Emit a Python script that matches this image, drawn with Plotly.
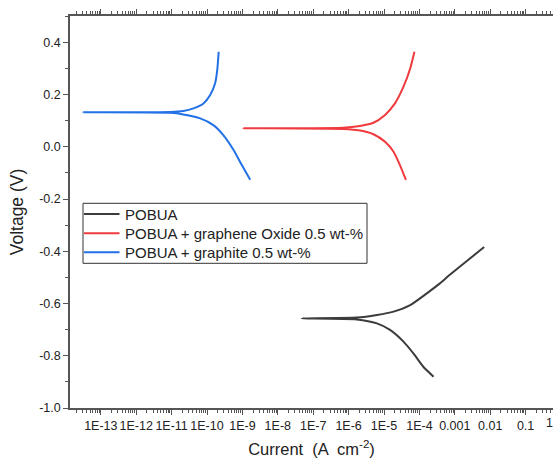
import plotly.graph_objects as go

# ---- data (log10 of current density, voltage) ----
pobua_start = (-7.32, -0.657)
pobua_up_logi = [-5.77, -5.20, -4.73, -4.26, -3.79, -3.42, -3.15, -2.66, -2.17]
pobua_up_v = [-0.654, -0.644, -0.631, -0.606, -0.561, -0.523, -0.491, -0.437, -0.384]
pobua_dn_logi = [-5.77, -5.20, -4.83, -4.45, -4.17, -3.89, -3.60]
pobua_dn_v = [-0.661, -0.676, -0.701, -0.746, -0.791, -0.842, -0.880]

go_start = (-8.99, 0.071)
go_up_logi = [-6.15, -5.68, -5.30, -4.97, -4.69, -4.45, -4.26, -4.14]
go_up_v = [0.073, 0.080, 0.092, 0.122, 0.166, 0.230, 0.300, 0.364]
go_dn_logi = [-6.15, -5.68, -5.30, -4.97, -4.73, -4.55, -4.38]
go_dn_v = [0.068, 0.062, 0.048, 0.019, -0.019, -0.070, -0.127]

gr_start = (-13.5, 0.132)
gr_up_logi = [-11.04, -10.67, -10.38, -10.10, -9.91, -9.77, -9.71, -9.67]
gr_up_v = [0.133, 0.137, 0.147, 0.166, 0.198, 0.243, 0.294, 0.364]
gr_dn_logi = [-11.04, -10.67, -10.19, -9.82, -9.54, -9.25, -9.02, -8.78]
gr_dn_v = [0.130, 0.124, 0.109, 0.083, 0.045, -0.012, -0.069, -0.126]

names = ["POBUA", "POBUA + graphene Oxide 0.5 wt-%", "POBUA + graphite 0.5 wt-%"]
colors = ["#3c3c3c", "#f03a3d", "#2271e6"]

x_tickvals = [1e-13, 1e-12, 1e-11, 1e-10, 1e-9, 1e-8, 1e-7, 1e-6, 1e-5, 1e-4, 1e-3, 1e-2, 1e-1]
x_ticktext = ["1E-13", "1E-12", "1E-11", "1E-10", "1E-9", "1E-8", "1E-7", "1E-6",
              "1E-5", "1E-4", "0.001", "0.01", "0.1"]
y_tickvals = [0.4, 0.2, 0.0, -0.2, -0.4, -0.6, -0.8, -1.0]
y_ticktext = ["0.4", "0.2", "0.0", "-0.2", "-0.4", "-0.6", "-0.8", "-1.0"]


def build(start, up_l, up_v, dn_l, dn_v):
    logs = list(reversed(dn_l)) + [start[0]] + list(up_l)
    vs = list(reversed(dn_v)) + [start[1]] + list(up_v)
    return [10 ** l for l in logs], vs


series = [
    build(pobua_start, pobua_up_logi, pobua_up_v, pobua_dn_logi, pobua_dn_v),
    build(go_start, go_up_logi, go_up_v, go_dn_logi, go_dn_v),
    build(gr_start, gr_up_logi, gr_up_v, gr_dn_logi, gr_dn_v),
]

FONT = "Arial, Liberation Sans, sans-serif"
W, H = 553, 463
L, R, T, B = 70, 0, 16, 55
PW, PH = W - L - R, H - T - B


def px(x):
    return (x - L) / PW


def py(y):
    return (H - B - y) / PH


fig = go.Figure()
for (xs, ys), name, c in zip(series, names, colors):
    fig.add_trace(go.Scatter(x=xs, y=ys, mode="lines", name=name, showlegend=False,
                             line=dict(color=c, width=2, shape="spline", smoothing=0.6)))

minor_x = []
for e in range(-15, 1):
    for m in range(2, 10):
        minor_x.append(m * 10 ** e)

fig.update_layout(
    width=W, height=H,
    margin=dict(l=L, r=R, t=T, b=B, autoexpand=False),
    paper_bgcolor="white", plot_bgcolor="white",
    font=dict(family=FONT, size=12, color="#222"),
    showlegend=False,
)
fig.update_xaxes(
    type="log", range=[-13.87, -0.226], automargin=False,
    tickmode="array", tickvals=x_tickvals, ticktext=x_ticktext, tickangle=0,
    ticks="outside", ticklen=5, tickwidth=1, tickcolor="#555",
    showline=True, linecolor="#555", linewidth=1.5, mirror="ticks",
    showgrid=False, zeroline=False,
    tickfont=dict(family=FONT, size=12.5, color="#222"),
    minor=dict(tickmode="array", tickvals=minor_x, ticks="outside", ticklen=3,
               tickwidth=1, tickcolor="#555", showgrid=False),
    title=dict(text="Current  (A  cm<sup>-2</sup>)", font=dict(family=FONT, size=16.5, color="#222"),
               standoff=12),
)
fig.update_yaxes(
    range=[-1.0, 0.5007], automargin=False,
    tickmode="array", tickvals=y_tickvals, ticktext=y_ticktext,
    ticks="outside", ticklen=5, tickwidth=1, tickcolor="#555",
    showline=True, linecolor="#555", linewidth=1.5,
    showgrid=False, zeroline=False,
    tickfont=dict(family=FONT, size=12.5, color="#222"),
    minor=dict(dtick=0.1, ticks="outside", ticklen=3, tickwidth=1, tickcolor="#555", showgrid=False),
    title=dict(text="Voltage (V)", font=dict(family=FONT, size=17.5, color="#222"), standoff=11),
)
fig.add_annotation(text="1", x=px(549), y=0, xref="paper", yref="paper",
                   xanchor="center", yanchor="top", yshift=-6, showarrow=False,
                   font=dict(family=FONT, size=12.5, color="#222"))

# ---- legend box drawn by hand ----
fig.add_shape(type="rect", xref="paper", yref="paper",
              x0=px(83), x1=px(367), y0=py(263.3), y1=py(203.3),
              line=dict(color="#333", width=1), fillcolor="white", layer="above")
row_y = [214, 233.3, 252.3]
for name, c, ry in zip(names, colors, row_y):
    fig.add_shape(type="line", xref="paper", yref="paper",
                  x0=px(84), x1=px(119.5), y0=py(ry), y1=py(ry),
                  line=dict(color=c, width=2), layer="above")
    fig.add_annotation(text=name, x=px(123), y=py(ry + 0.5), xref="paper", yref="paper",
                       xanchor="left", yanchor="middle", showarrow=False,
                       font=dict(family=FONT, size=15, color="#222"))

fig.write_html("out.html")
